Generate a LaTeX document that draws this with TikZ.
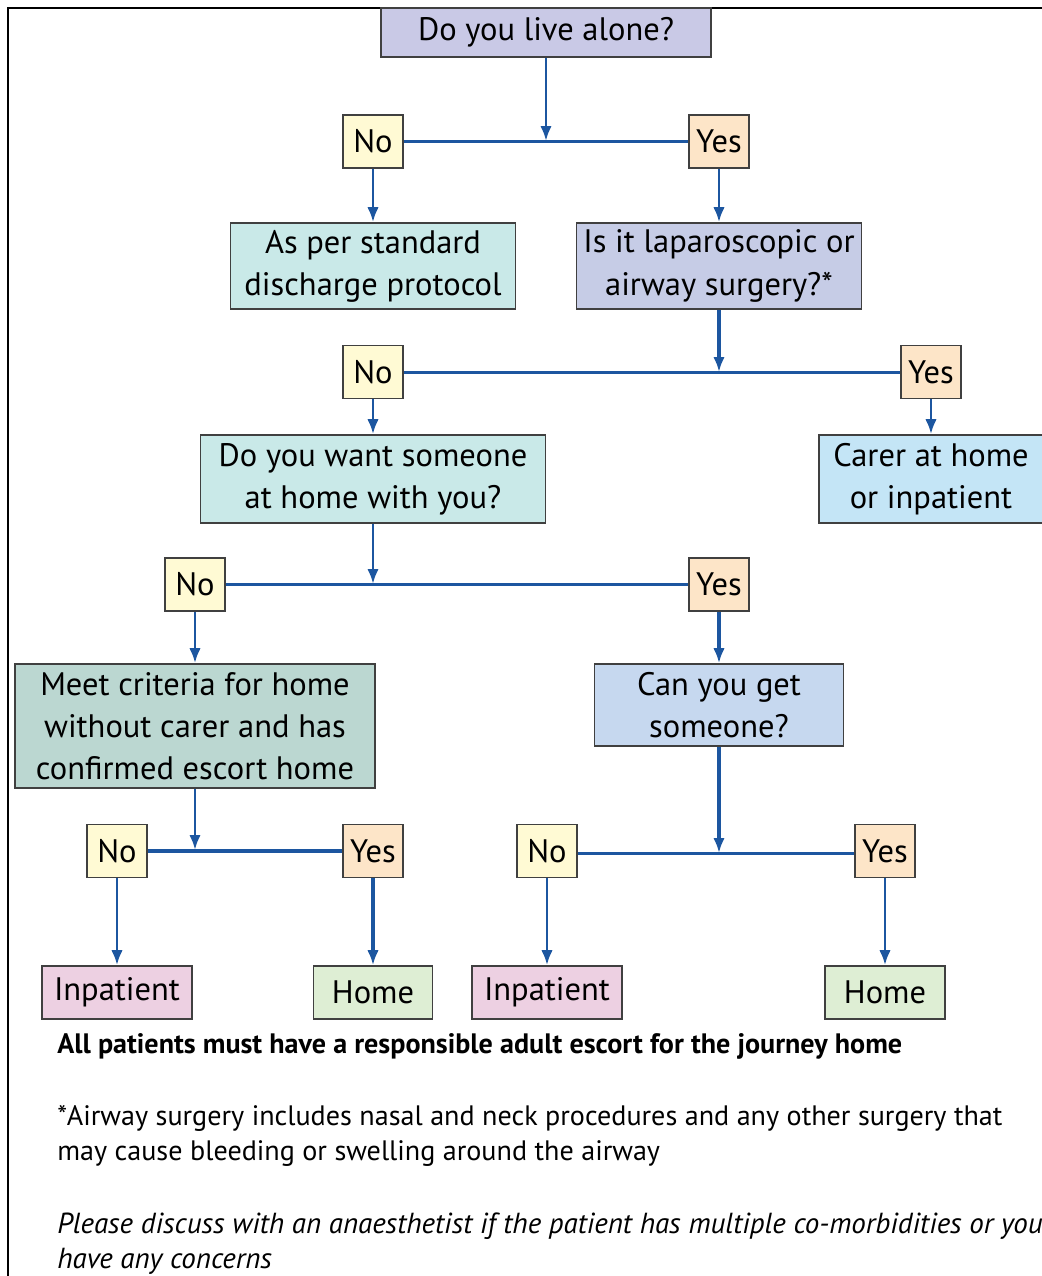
\documentclass[tikz,border=0pt]{standalone}
\usepackage{fontspec}
\setmainfont{PT Sans}
\usetikzlibrary{arrows.meta,positioning}
\definecolor{question}{HTML}{C9C9E6}
\definecolor{surgery}{HTML}{C6CCE6}
\definecolor{protocol}{HTML}{C9E9E8}
\definecolor{criteria}{HTML}{BBD7D1}
\definecolor{carer}{HTML}{C4E5F6}
\definecolor{getsome}{HTML}{C6D8EF}
\definecolor{nofill}{HTML}{FFFAD4}
\definecolor{yesfill}{HTML}{FDE5C8}
\definecolor{inpat}{HTML}{EDD0E2}
\definecolor{homefill}{HTML}{DEEED4}
\definecolor{flowblue}{HTML}{1C56A0}
\tikzset{
  box/.style={draw=black!75, line width=0.9pt, inner sep=0pt, align=center,
    font=\fontsize{18.5}{24}\selectfont},
  answer/.style={box, minimum width=1.2cm, minimum height=1.06cm},
  no/.style={answer, fill=nofill},
  yes/.style={answer, fill=yesfill},
  result/.style={box, minimum height=1.06cm},
  flow/.style={draw=flowblue, line width=1.7pt, -{Latex[length=3mm,width=2.3mm]}},
  thickflow/.style={flow, line width=2.6pt},
  split/.style={draw=flowblue, line width=1.7pt},
  note/.style={anchor=west, align=left, inner sep=0pt, font=\fontsize{16}{20}\selectfont},
}
\begin{document}
\begin{tikzpicture}[x=0.02cm, y=-0.02cm]
  \useasboundingbox (0,0) rectangle (1042,1276);
  \draw[line width=1.2pt] (8,1276) -- (8,8) -- (1042,8);

  % questions and outcomes
  \node (alone) [box, fill=question, minimum width=6.6cm, minimum height=0.98cm] at (546,32.5) {Do you live alone?};
  \node (no1) [no] at (373,141.5) {No};
  \node (yes1) [yes] at (719,141.5) {Yes};
  \node (std) [box, fill=protocol, minimum width=5.7cm, minimum height=1.72cm] at (373,266) {As per standard\\discharge protocol};
  \node (lap) [box, fill=surgery, minimum width=5.7cm, minimum height=1.72cm] at (719,266) {Is it laparoscopic or\\airway surgery?*};
  \node (no2) [no] at (373,372) {No};
  \node (yes2) [yes] at (931,372) {Yes};
  \node (want) [box, fill=protocol, minimum width=6.9cm, minimum height=1.76cm] at (373,479) {Do you want someone\\at home with you?};
  \node (carer) [box, fill=carer, minimum width=4.48cm, minimum height=1.76cm] at (931,479) {Carer at home\\or inpatient};
  \node (no3) [no] at (195,584.5) {No};
  \node (yes3) [yes] at (719,584.5) {Yes};
  \node (meet) [box, fill=criteria, minimum width=7.2cm, minimum height=2.48cm] at (195,726) {Meet criteria for home\\without carer and has\\confirmed escort home};
  \node (get) [box, fill=getsome, minimum width=4.98cm, minimum height=1.64cm] at (719,705) {Can you get\\someone?};
  \node (no4) [no] at (117,851) {No};
  \node (yes4) [yes] at (373,851) {Yes};
  \node (no5) [no] at (547,851) {No};
  \node (yes5) [yes] at (885,851) {Yes};
  \node (inp1) [result, fill=inpat, minimum width=3cm] at (117,992.5) {Inpatient};
  \node (home1) [result, fill=homefill, minimum width=2.38cm] at (373,992.5) {Home};
  \node (inp2) [result, fill=inpat, minimum width=3cm] at (547,992.5) {Inpatient};
  \node (home2) [result, fill=homefill, minimum width=2.4cm] at (885,992.5) {Home};

  \coordinate (j1) at (546,141);
  \coordinate (j2) at (719,372);
  \coordinate (j3) at (373,584);
  \coordinate (j4) at (195,850);
  \coordinate (j5) at (719,853);

  % branches
  \draw[split] (no1) -- (yes1);
  \draw[split] (no2) -- (yes2);
  \draw[split] (no3) -- (yes3);
  \draw[split, line width=2.6pt] (no4) -- (yes4);
  \draw[split] (no5.east |- j5) -- (yes5.west |- j5);

  \draw[flow] (alone) -- (j1);
  \draw[thickflow] (lap) -- (j2);
  \draw[flow] (want) -- (j3);
  \draw[flow] (meet) -- (j4);
  \draw[thickflow] (get) -- (j5);

  \draw[flow] (no1) -- (std);
  \draw[flow] (yes1) -- (lap);
  \draw[flow] (no2) -- (want);
  \draw[flow] (yes2) -- (carer);
  \draw[flow] (no3) -- (meet);
  \draw[thickflow] (yes3) -- (get);
  \draw[flow] (no4) -- (inp1);
  \draw[thickflow] (yes4) -- (home1);
  \draw[flow] (no5) -- (inp2);
  \draw[flow] (yes5) -- (home2);

  % notes
  \node (rule) [note, font=\fontsize{16}{20}\selectfont\bfseries] at (57,1046) {All patients must have a responsible adult escort for the journey home};
  \node (foot) [note] at (57,1136) {*Airway surgery includes nasal and neck procedures and any other surgery that\\may cause bleeding or swelling around the airway};
  \node (advice) [note, font=\fontsize{16.5}{20}\selectfont\itshape] at (57,1244) {Please discuss with an anaesthetist if the patient has multiple co-morbidities or you\\have any concerns};
\end{tikzpicture}
\end{document}
